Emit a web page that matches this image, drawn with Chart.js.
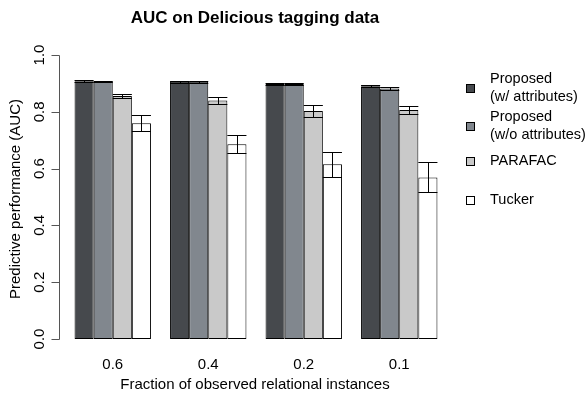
<!DOCTYPE html>
<html>
<head>
<meta charset="utf-8">
<script src="https://cdn.jsdelivr.net/npm/chart.js@4/dist/chart.umd.min.js"></script>
<style>
  html, body { margin: 0; padding: 0; background: #fff; }
  #wrap { width: 587px; height: 394px; }
</style>
</head>
<body>
<div id="wrap"><canvas id="auc-chart" width="587" height="394"></canvas></div>
<script>
var categories = ['0.6', '0.4', '0.2', '0.1'];
var seriesNames = [['Proposed', '(w/ attributes)'], ['Proposed', '(w/o attributes)'], ['PARAFAC'], ['Tucker']];

var withAttr = [0.908, 0.906, 0.898, 0.890];
var withAttrErr = [0.003, 0.003, 0.003, 0.004];
var withoutAttr = [0.907, 0.906, 0.898, 0.882];
var withoutAttrErr = [0.003, 0.003, 0.003, 0.006];
var parafac = [0.856, 0.840, 0.803, 0.806];
var parafacErr = [0.008, 0.013, 0.021, 0.014];
var tucker = [0.760, 0.686, 0.615, 0.569];
var tuckerErr = [0.029, 0.032, 0.045, 0.053];

var yTicks = [0, 0.2, 0.4, 0.6, 0.8, 1.0];
var barColors = ['#46494d', '#81878e', '#c9c9c9', '#ffffff'];

var FONT = '"Liberation Sans", Arial, Helvetica, sans-serif';

// error bars, drawn from each bar element
var errorBars = {
  id: 'errorBars',
  afterDatasetsDraw: function(chart) {
    var ctx = chart.ctx;
    var y = chart.scales.y;
    ctx.save();
    ctx.strokeStyle = '#000';
    ctx.lineWidth = 1;
    chart.data.datasets.forEach(function(ds, di) {
      var meta = chart.getDatasetMeta(di);
      meta.data.forEach(function(bar, i) {
        var v = ds.data[i], e = ds.errors[i];
        var x = Math.round(bar.x) + 0.5;
        var half = bar.width / 2;
        var y1 = Math.round(y.getPixelForValue(v + e)) + 0.5;
        var y2 = Math.round(y.getPixelForValue(v - e)) + 0.5;
        ctx.beginPath();
        ctx.moveTo(x, y1); ctx.lineTo(x, y2);
        ctx.moveTo(bar.x - half, y1); ctx.lineTo(bar.x + half, y1);
        ctx.moveTo(bar.x - half, y2); ctx.lineTo(bar.x + half, y2);
        ctx.stroke();
      });
    });
    ctx.restore();
  }
};

// R style y axis, title, x label and legend
var decorations = {
  id: 'decorations',
  afterDraw: function(chart) {
    var ctx = chart.ctx;
    var y = chart.scales.y;
    var ax = 59.5;
    ctx.save();
    ctx.strokeStyle = '#555';
    ctx.lineWidth = 1;
    ctx.beginPath();
    ctx.moveTo(ax, Math.round(y.getPixelForValue(0)) + 0.5);
    ctx.lineTo(ax, Math.round(y.getPixelForValue(1)) + 0.5);
    yTicks.forEach(function(t) {
      var py = Math.round(y.getPixelForValue(t)) + 0.5;
      ctx.moveTo(ax, py); ctx.lineTo(ax - 8, py);
    });
    ctx.stroke();

    ctx.fillStyle = '#000';
    ctx.font = '15px ' + FONT;
    ctx.textAlign = 'center';
    ctx.textBaseline = 'middle';
    yTicks.forEach(function(t) {
      var py = y.getPixelForValue(t);
      ctx.save();
      ctx.translate(40, py);
      ctx.rotate(-Math.PI / 2);
      ctx.fillText(t.toFixed(1), 0, 0);
      ctx.restore();
    });

    ctx.save();
    ctx.translate(16, 199);
    ctx.rotate(-Math.PI / 2);
    ctx.fillText('Predictive performance (AUC)', 0, 0);
    ctx.restore();

    ctx.fillText('Fraction of observed relational instances', 255, 385);

    ctx.font = 'bold 17px ' + FONT;
    ctx.fillText('AUC on Delicious tagging data', 255, 18);

    // legend
    var rows = [88, 126, 161, 200];
    ctx.font = '14.5px ' + FONT;
    ctx.textAlign = 'left';
    seriesNames.forEach(function(lines, i) {
      var cy = rows[i];
      ctx.fillStyle = barColors[i];
      ctx.fillRect(466, cy - 4, 9, 9);
      ctx.strokeStyle = '#000';
      ctx.strokeRect(466.5, cy - 3.5, 8, 8);
      ctx.fillStyle = '#000';
      if (lines.length === 2) {
        ctx.fillText(lines[0], 490, cy - 9);
        ctx.fillText(lines[1], 490, cy + 9);
      } else {
        ctx.fillText(lines[0], 490, cy);
      }
    });
    ctx.restore();
  }
};

var values = [withAttr, withoutAttr, parafac, tucker];
var errors = [withAttrErr, withoutAttrErr, parafacErr, tuckerErr];

var datasets = values.map(function(v, i) {
  return {
    label: seriesNames[i].join(' '),
    data: v,
    errors: errors[i],
    backgroundColor: barColors[i],
    borderColor: '#000',
    borderWidth: 1,
    borderSkipped: false,
    categoryPercentage: 0.8,
    barPercentage: 1.0
  };
});

new Chart(document.getElementById('auc-chart'), {
  type: 'bar',
  data: { labels: categories, datasets: datasets },
  options: {
    responsive: false,
    animation: false,
    layout: { padding: { left: 65, right: 140, top: 55, bottom: 3 } },
    plugins: {
      legend: { display: false },
      title: { display: false },
      tooltip: { enabled: false }
    },
    scales: {
      x: {
        grid: { display: false, drawTicks: false },
        border: { display: false },
        ticks: { color: '#000', font: { size: 15, family: FONT }, padding: 17 }
      },
      y: {
        display: false,
        min: 0,
        max: 1
      }
    }
  },
  plugins: [errorBars, decorations]
});
</script>
</body>
</html>
